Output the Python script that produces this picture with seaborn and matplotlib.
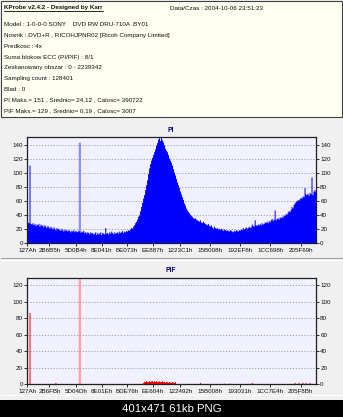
import numpy as np
import matplotlib
matplotlib.use('Agg')
import matplotlib.pyplot as plt
import seaborn as sns
from matplotlib.patches import Rectangle
from matplotlib.lines import Line2D

sns.set_style('white')
plt.rcParams['font.family'] = ['Liberation Sans', 'DejaVu Sans']

# --- DATA ---
lba_start = 0x127A
lba_end = 2239342

header_title = 'KProbe v2.4.2 - Designed by Karr'
header_date = 'Data/Czas : 2004-10-06 23:51:23'
header_lines = [
    'Model : 1-0-0-0 SONY    DVD RW DRU-710A  BY01',
    'Nosnik : DVD+R , RICOHJPNR02 [Ricoh Company Limited]',
    'Predkosc : 4x',
    'Suma blokow ECC (PI/PIF) : 8/1',
    'Zeskanowany obszar : 0 - 2239342',
    'Sampling count : 128401',
    'Blad : 0',
    'PI Maks.= 151 , Srednio= 24,12 , Calosc= 390722',
    'PIF Maks.= 129 , Srednio= 0,19 , Calosc= 3007',
]

pi_ticks = ['127Ah', '2B6B5h', '5D0B4h', '8E041h', 'BE073h', 'EE887h',
            '1223C1h', '15B008h', '192EF6h', '1CC698h', '205F69h']
pif_ticks = ['127Ah', '2B6FBh', '5D04Dh', '8E01Eh', 'BDE76h', 'EE604h',
             '122492h', '15B008h', '193031h', '1CC7E4h', '205F8Bh']

# PI errors, one value per sample column across the disc
pi_values = [
    30, 29, 111, 28, 27, 29, 26, 28, 25, 27,
    26, 28, 24, 27, 25, 26, 23, 26, 24, 22,
    25, 23, 21, 24, 22, 20, 23, 21, 19, 22,
    20, 21, 19, 18, 21, 19, 17, 20, 18, 19,
    17, 19, 18, 16, 18, 17, 19, 16, 18, 17,
    16, 18, 17, 15, 17, 16, 18, 15, 16, 14,
    16, 15, 13, 16, 14, 15, 13, 14, 16, 12,
    15, 13, 14, 16, 12, 15, 14, 13, 22, 14,
    15, 13, 16, 14, 17, 15, 13, 16, 14, 15,
    16, 14, 17, 15, 16, 18, 15, 17, 16, 18,
    17, 19, 18, 20, 22, 21, 24, 26, 29, 31,
    34, 38, 40, 46, 52, 58, 64, 69, 76, 83,
    90, 99, 107, 113, 118, 122, 126, 130, 134, 139,
    143, 148, 150, 146, 151, 147, 144, 140, 135, 132,
    130, 126, 121, 118, 115, 111, 106, 101, 97, 92,
    87, 83, 79, 74, 70, 66, 62, 57, 54, 50,
    47, 45, 43, 41, 39, 38, 36, 35, 36, 34,
    33, 32, 31, 33, 30, 29, 31, 29, 28, 27,
    26, 28, 25, 24, 26, 23, 21, 24, 22, 21,
    22, 20, 21, 19, 21, 20, 18, 20, 19, 18,
    19, 18, 17, 19, 18, 17, 16, 18, 17, 19,
    18, 17, 19, 18, 20, 19, 22, 20, 21, 23,
    21, 22, 24, 22, 23, 27, 25, 24, 33, 26,
    25, 27, 26, 28, 26, 29, 27, 28, 30, 29,
    31, 29, 32, 30, 33, 35, 32, 34, 47, 33,
    35, 36, 34, 37, 36, 38, 37, 40, 39, 42,
    41, 44, 46, 45, 48, 52, 50, 55, 57, 59,
    60, 62, 61, 63, 65, 64, 67, 66, 79, 70,
    69, 71, 68, 72, 70, 94, 69, 74, 76, 73,
]
pi_spike_col = 52
pi_spike = 143

# PIF errors are mostly zero -> keep only the non-zero columns
pif_cols = [2, 28] + list(range(116, 149)) + [173, 197, 203, 225, 268, 272, 276, 279, 283]
pif_values = [87, 2,
              2, 3, 3, 4, 3, 3, 4, 3, 4, 4, 3, 4, 3, 4, 3, 3, 4,
              3, 3, 4, 3, 3, 2, 3, 3, 2, 3, 2, 2, 3, 2, 2, 3,
              2, 1, 1, 2, 2, 2, 2, 2, 2]
pif_spike_col = 52
pif_spike = 129

# --- FIGURE ---
W, H = 343, 417
fig = plt.figure(figsize=(W / 100, H / 100), dpi=100)
fig.patch.set_facecolor('#f0f0f0')

def fx(px):
    return px / W

def fy(py):
    return 1 - py / H

FS = 4.5  # small UI text size
TXT = '#101010'

# header box, panel separators, bottom bar
fig.patches.append(Rectangle((fx(1), fy(117)), fx(341), 116 / H, transform=fig.transFigure,
                             facecolor='#fffff2', edgecolor='#404040', lw=0.8, zorder=-2))
for y, c in [(258, '#a0a0a0'), (259.5, 'white'), (395, 'white')]:
    fig.add_artist(Line2D([fx(1), fx(342)], [fy(y), fy(y)], color=c, lw=0.8, zorder=-1))
fig.patches.append(Rectangle((0, 0), 1, 17 / H, transform=fig.transFigure,
                             facecolor='black', edgecolor='none', zorder=-2))
fig.text(0.5, fy(409), '401x471 61kb PNG', color='white', fontsize=8.2,
         ha='center', va='center')

t = fig.text(fx(4), fy(8), header_title, fontsize=FS, fontweight='bold', va='center', color=TXT)
fig.text(fx(170), fy(8), header_date, fontsize=FS, va='center', color=TXT)
for k, line in enumerate(header_lines):
    fig.text(fx(4), fy(25 + k * 10.7), line, fontsize=FS, va='center', color=TXT)

edges = np.linspace(lba_start, lba_end, len(pi_values) + 1)
centers = (edges[:-1] + edges[1:]) / 2
bins = edges.tolist()

pif_full = np.zeros(len(pi_values))
pif_full[pif_cols] = pif_values


def draw_panel(ax, vals, spike_col, spike_val, color, spike_color, ymax, yticks, ticks, title, top):
    sns.histplot(x=[centers[spike_col]], weights=[spike_val], bins=bins, element='step',
                 fill=True, color=spike_color, alpha=1, linewidth=0.8, edgecolor=spike_color, ax=ax)
    sns.histplot(x=centers, weights=list(vals), bins=bins, element='step',
                 fill=True, color=color, alpha=1, linewidth=0, ax=ax)
    ax.set_facecolor('#f0f0ff')
    ax.set_xlim(lba_start, lba_end)
    ax.set_ylim(0, ymax)
    ax.set_yticks(yticks)
    ax.set_xticks([int(s[:-1], 16) for s in ticks])
    ax.set_xticklabels(ticks)
    ax.set_xlabel('')
    ax.set_ylabel('')
    ax.yaxis.grid(True, color='#a0a0a0', linestyle=(0, (1.2, 1.8)), lw=0.7)
    ax.xaxis.grid(False)
    ax.set_axisbelow(True)
    ax.tick_params(axis='y', left=True, right=True, labelright=True, length=2,
                   width=0.6, pad=1, labelsize=FS, colors=TXT)
    ax.tick_params(axis='x', bottom=True, length=2, width=0.6, pad=1.5,
                   labelsize=FS, colors=TXT)
    for s in ax.spines.values():
        s.set_color('#202020')
        s.set_linewidth(0.9)
    fig.text(fx(171), fy(top), title, fontsize=FS + 0.3, fontweight='bold',
             color='#000080', ha='center', va='center')


ax1 = fig.add_axes([fx(27), fy(243), 289 / W, 106 / H])
draw_panel(ax1, pi_values, pi_spike_col, pi_spike, '#0000ff', '#8c8cff', 151,
           range(0, 141, 20), pi_ticks, 'PI', 130)

ax2 = fig.add_axes([fx(27), fy(384), 289 / W, 106 / H])
draw_panel(ax2, pif_full, pif_spike_col, pif_spike, '#ff0000', '#ff9c9c', 129,
           range(0, 121, 20), pif_ticks, 'PIF', 271)

# underline the header title
fig.canvas.draw()
bb = t.get_window_extent().transformed(fig.transFigure.inverted())
fig.add_artist(Line2D([bb.x0, bb.x1], [bb.y0 - 0.002, bb.y0 - 0.002], color='black', lw=0.6))

fig.savefig('out.png', dpi=100, facecolor=fig.get_facecolor())
